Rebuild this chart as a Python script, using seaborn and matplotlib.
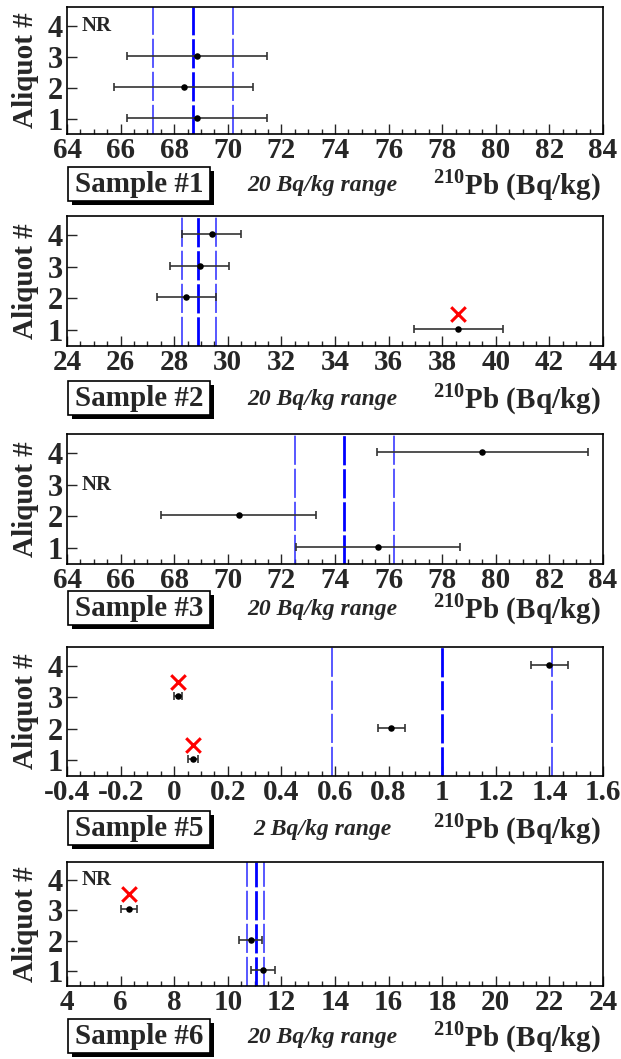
import numpy as np
import pandas as pd
import matplotlib
matplotlib.use("Agg")
import matplotlib.pyplot as plt
import seaborn as sns
from matplotlib.patches import Rectangle
from matplotlib.ticker import MultipleLocator, AutoMinorLocator, FuncFormatter

# ---------------- data ----------------
sample_names = ["Sample #1", "Sample #2", "Sample #3", "Sample #5", "Sample #6"]
range_labels = ["20 Bq/kg range", "20 Bq/kg range", "20 Bq/kg range", "2 Bq/kg range", "20 Bq/kg range"]
x_limits = [(64, 84), (24, 44), (64, 84), (-0.4, 1.6), (4, 24)]
x_major = [2, 2, 2, 0.2, 2]

s1_aliquot = [1, 2, 3]
s1_value = [68.85, 68.35, 68.85]
s1_err = [2.6, 2.6, 2.6]
s1_lines = [67.2, 68.7, 70.2]

s2_aliquot = [1, 2, 3, 4]
s2_value = [38.6, 28.45, 28.95, 29.4]
s2_err = [1.65, 1.1, 1.1, 1.1]
s2_lines = [28.3, 28.9, 29.55]

s3_aliquot = [1, 2, 4]
s3_value = [75.6, 70.4, 79.5]
s3_err = [3.05, 2.9, 3.95]
s3_lines = [72.5, 74.35, 76.2]

s5_aliquot = [1, 2, 3, 4]
s5_value = [0.07, 0.81, 0.015, 1.40]
s5_err = [0.018, 0.05, 0.015, 0.07]
s5_lines = [0.59, 1.0, 1.41]

s6_aliquot = [1, 2, 3]
s6_value = [11.3, 10.85, 6.3]
s6_err = [0.45, 0.42, 0.3]
s6_lines = [10.7, 11.05, 11.35]

rejected_x = [[], [38.6], [], [0.015, 0.07], [6.3]]
rejected_y = [[], [1.5], [], [3.5, 1.5], [3.55]]
nr_aliquot = [4, None, 3, None, 4]

aliquots = [s1_aliquot, s2_aliquot, s3_aliquot, s5_aliquot, s6_aliquot]
values = [s1_value, s2_value, s3_value, s5_value, s6_value]
errors = [s1_err, s2_err, s3_err, s5_err, s6_err]
mean_lines = [s1_lines, s2_lines, s3_lines, s5_lines, s6_lines]

# ---------------- layout (pixels) ----------------
W, H = 621, 1059
ax_left, ax_right = 67, 603
ax_tops = [7, 216, 434, 647, 862]
ax_bottoms = [134, 346, 564, 776, 986]
text_rows = [184, 398, 608, 828, 1036]

sns.set_theme(style="white")
plt.rcParams["font.family"] = ["Liberation Serif", "DejaVu Serif"]
plt.rcParams["font.weight"] = "bold"
plt.rcParams["axes.unicode_minus"] = False
plt.rcParams["mathtext.fontset"] = "custom"
plt.rcParams["mathtext.rm"] = "Liberation Serif:bold"
plt.rcParams["mathtext.bf"] = "Liberation Serif:bold"
plt.rcParams["lines.scale_dashes"] = False

fig = plt.figure(figsize=(W / 100, H / 100), dpi=100)
fig.patch.set_facecolor("white")


def fmt(v, pos):
    s = f"{v:.1f}".rstrip("0").rstrip(".")
    if s == "-0":
        s = "0"
    return s


for i in range(5):
    top, bot = ax_tops[i], ax_bottoms[i]
    ax = fig.add_axes([ax_left / W, 1 - bot / H, (ax_right - ax_left) / W, (bot - top) / H])
    df = pd.DataFrame({"aliquot": aliquots[i], "value": values[i], "err": errors[i]})

    lo, mid, hi = mean_lines[i]
    for xv, lw, col in [(lo, 1.1, "#2a2aff"), (hi, 1.1, "#2a2aff"), (mid, 2.0, "#0000ff")]:
        ax.axvline(xv, color=col, lw=lw, linestyle=(0, (21, 2.8)), zorder=1)

    ax.errorbar(df["value"], df["aliquot"] + 0.03, xerr=df["err"], fmt="none",
                ecolor="#333333", elinewidth=1.2, capsize=3, capthick=1.2, zorder=2)
    sns.scatterplot(data=df.assign(y=df["aliquot"] + 0.03), x="value", y="y", ax=ax,
                    color="black", s=22, edgecolor="black", linewidth=0, zorder=3, legend=False)

    if rejected_x[i]:
        rdf = pd.DataFrame({"x": rejected_x[i], "y": rejected_y[i]})
        sns.scatterplot(data=rdf, x="x", y="y", ax=ax, marker="x", color="red",
                        s=110, linewidth=2.2, zorder=4, legend=False)

    if nr_aliquot[i] is not None:
        xmin, xmax = x_limits[i]
        ax.text(xmin + 0.027 * (xmax - xmin), nr_aliquot[i], "NR", fontsize=15,
                fontweight="bold", va="center", ha="left")

    ax.set_xlim(*x_limits[i])
    ax.set_ylim(0.5, 4.6)
    ax.set_yticks([1, 2, 3, 4])
    ax.xaxis.set_major_locator(MultipleLocator(x_major[i]))
    ax.xaxis.set_minor_locator(AutoMinorLocator(4))
    ax.xaxis.set_major_formatter(FuncFormatter(fmt))
    ax.tick_params(axis="x", which="major", direction="in", length=7, width=1.0,
                   labelsize=21, pad=2, bottom=True, top=False)
    ax.tick_params(axis="x", which="minor", direction="in", length=3.5, width=1.0,
                   bottom=True, top=False)
    ax.tick_params(axis="y", which="major", direction="in", length=7, width=1.0,
                   labelsize=22, pad=3, left=True, right=False)
    for lab in ax.get_xticklabels() + ax.get_yticklabels():
        lab.set_fontweight("bold")
    for sp in ax.spines.values():
        sp.set_color("black")
        sp.set_linewidth(1.2)
    ax.set_xlabel("")
    ax.set_ylabel("Aliquot #", fontsize=21, fontweight="bold", labelpad=6)

    # bottom row of text
    yc = text_rows[i]
    bx0, bx1, bh = 68, 210, 34
    shadow = Rectangle(((bx0 + 4) / W, 1 - (yc + bh / 2 + 4) / H), (bx1 - bx0) / W, bh / H,
                       transform=fig.transFigure, facecolor="black", edgecolor="black", lw=0)
    box = Rectangle((bx0 / W, 1 - (yc + bh / 2) / H), (bx1 - bx0) / W, bh / H,
                    transform=fig.transFigure, facecolor="white", edgecolor="black", lw=1.2)
    fig.patches.extend([shadow, box])
    fig.text((bx0 + bx1) / 2 / W, 1 - yc / H, sample_names[i], fontsize=21, fontweight="bold",
             ha="center", va="center")
    fig.text(322 / W, 1 - (yc + 1) / H, range_labels[i], fontsize=17, fontweight="bold",
             style="italic", ha="center", va="center")
    fig.text(601 / W, 1 - (yc + 1) / H, r"$^{\mathbf{210}}$Pb (Bq/kg)", fontsize=21,
             fontweight="bold", ha="right", va="center")

fig.savefig("out.png", dpi=100, facecolor="white")
